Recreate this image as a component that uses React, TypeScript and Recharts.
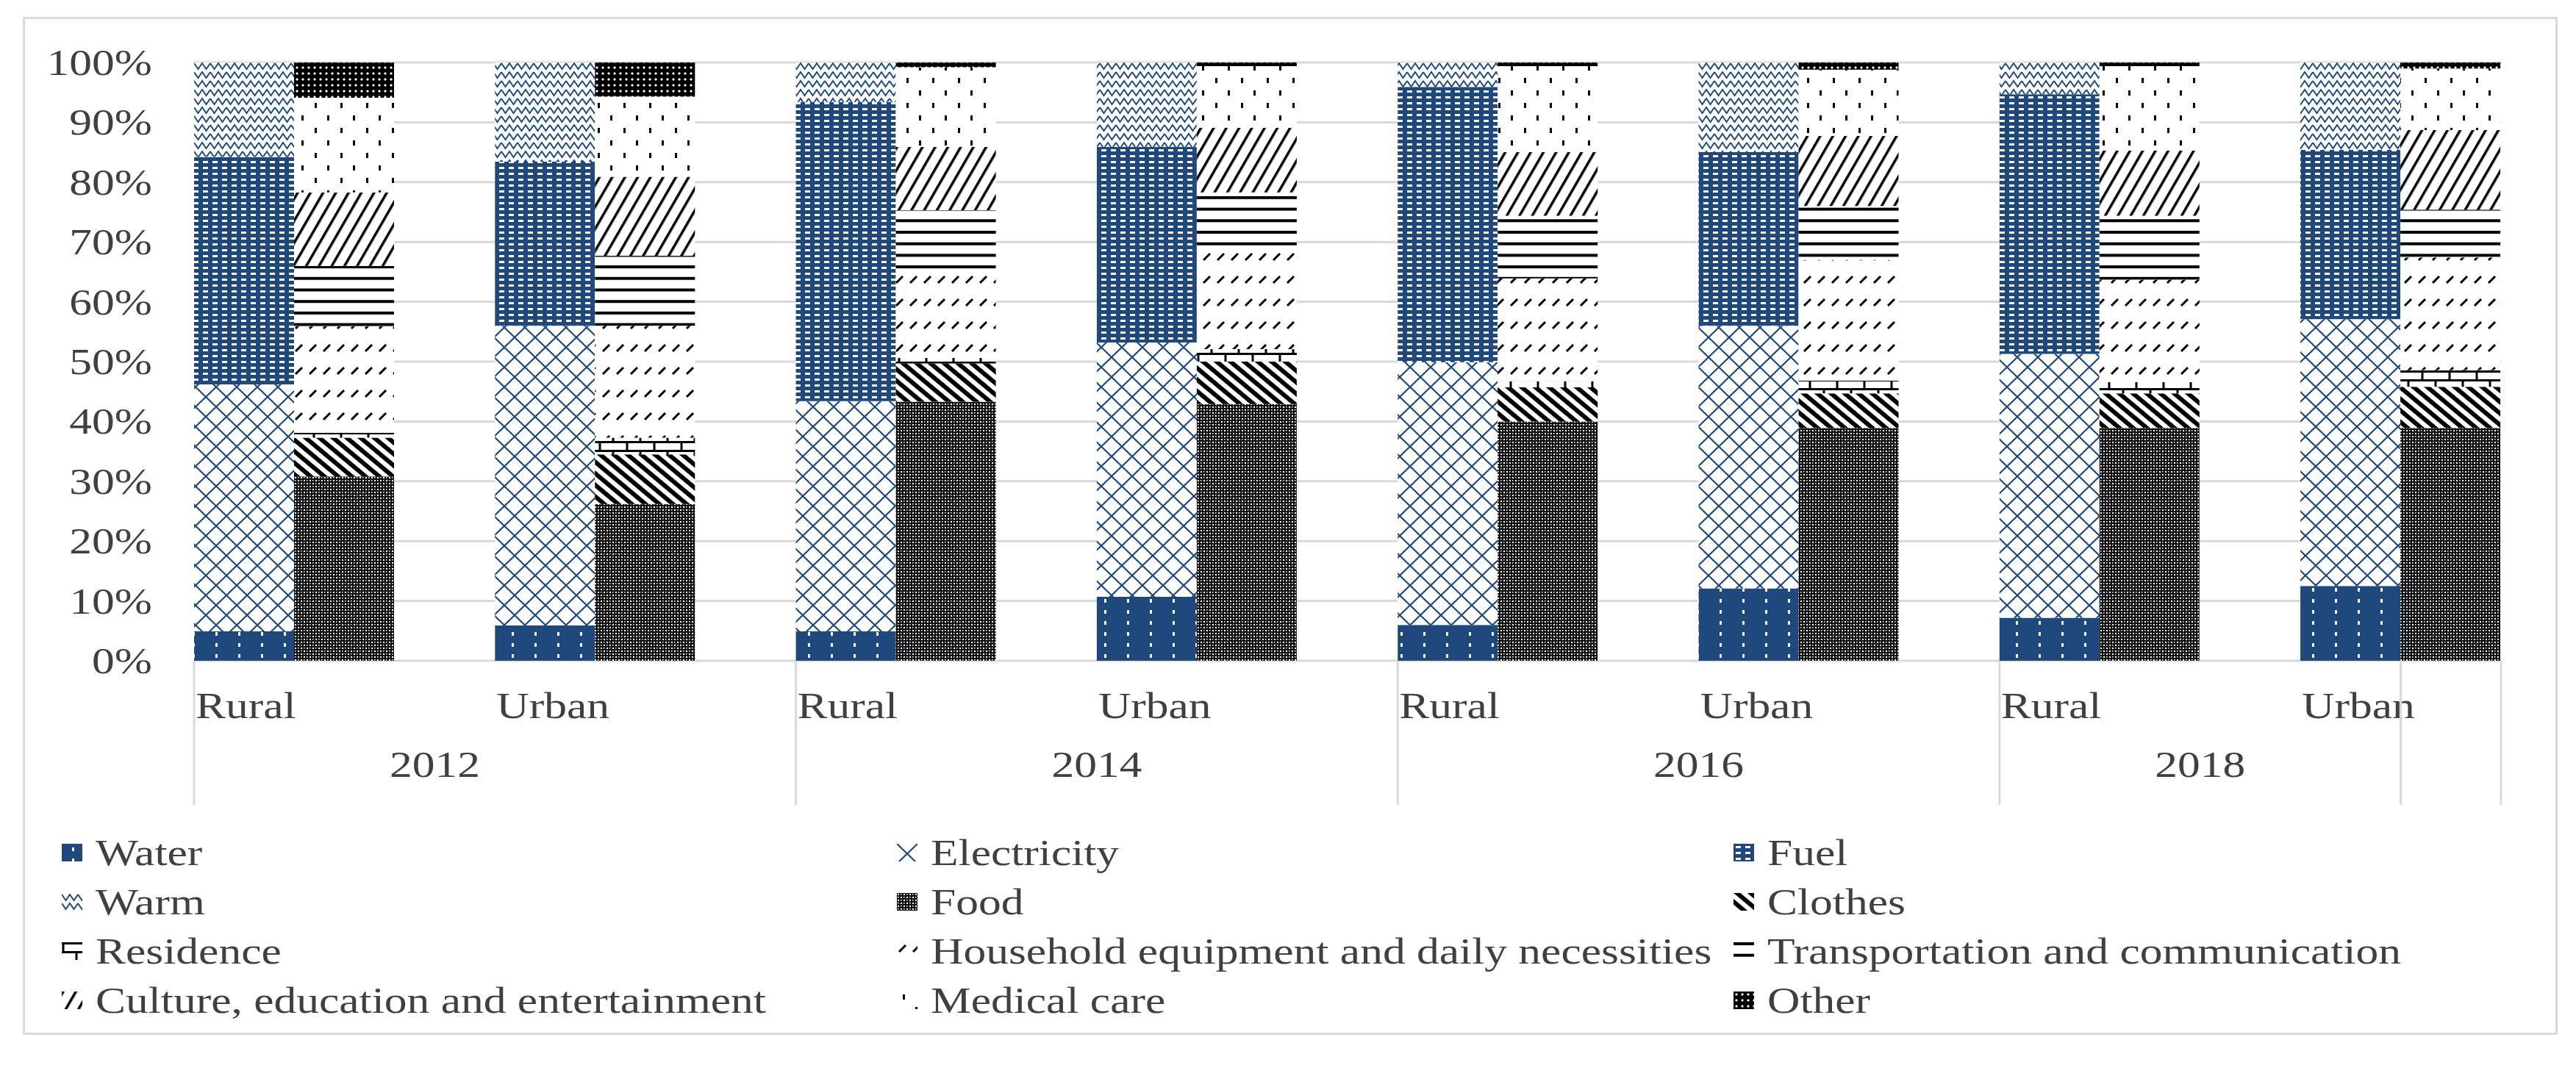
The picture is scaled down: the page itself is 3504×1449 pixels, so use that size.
import React from 'react';
import { BarChart, Bar, XAxis, YAxis, CartesianGrid, Legend } from 'recharts';

// ---------------- data ----------------
const years = ['2012', '2014', '2016', '2018'];
const areas = ['Rural', 'Urban'];
const yTicks = [0, 10, 20, 30, 40, 50, 60, 70, 80, 90, 100];

// one value per bar: 2012 Rural, 2012 Urban, 2014 Rural, 2014 Urban, 2016 Rural, 2016 Urban, 2018 Rural, 2018 Urban
const water = [4.9, 5.9, 4.9, 10.7, 6.0, 12.1, 7.2, 12.5];
const electricity = [41.3, 50.1, 38.5, 42.5, 43.9, 43.9, 44.1, 44.6];
const fuel = [38.0, 27.4, 50.0, 32.7, 46.0, 29.0, 43.4, 28.3];
const warm = [15.8, 16.6, 6.6, 14.1, 4.1, 15.0, 5.3, 14.6];
const food = [30.8, 26.2, 43.3, 42.9, 40.0, 38.9, 38.9, 38.9];
const clothes = [6.5, 8.3, 6.4, 7.1, 5.7, 5.8, 5.8, 6.9];
const residence = [0.8, 2.8, 0.9, 2.1, 1.0, 2.1, 1.9, 2.8];
const household = [17.8, 18.7, 14.8, 17.0, 17.2, 20.2, 17.1, 18.8];
const transport = [10.1, 11.7, 9.9, 9.2, 10.5, 9.0, 10.7, 8.0];
const culture = [12.3, 13.2, 10.6, 10.8, 10.6, 11.7, 10.9, 13.3];
const medical = [15.8, 13.4, 13.3, 10.3, 14.4, 11.1, 14.1, 10.3];
const other = [5.9, 5.7, 0.8, 0.6, 0.6, 1.2, 0.6, 1.0];

const seriesKeys = ['water', 'electricity', 'fuel', 'warm', 'food', 'clothes', 'residence', 'household', 'transport', 'culture', 'medical', 'other'];
const seriesNames = [
  'Water', 'Electricity', 'Fuel', 'Warm', 'Food', 'Clothes', 'Residence',
  'Household equipment and daily necessities', 'Transportation and communication',
  'Culture, education and entertainment', 'Medical care', 'Other',
];
const seriesValues = [water, electricity, fuel, warm, food, clothes, residence, household, transport, culture, medical, other];
const seriesStack = ['energy', 'energy', 'energy', 'energy', 'spend', 'spend', 'spend', 'spend', 'spend', 'spend', 'spend', 'spend'];

const data = years.flatMap((yr, yi) =>
  areas.map((ar, ai) => {
    const i = yi * 2 + ai;
    const row: any = { cat: `${ar} ${yr}`, area: ar, year: yr, gap: 0 };
    seriesKeys.forEach((k, si) => {
      row[k] = seriesValues[si][i];
    });
    return row;
  })
);

// ---------------- style ----------------
const W = 3504;
const H = 1449;
const SX = 1.23; // horizontal stretch of the text in the reference
const FONT = '"Liberation Serif", "Times New Roman", serif';
const FS = 50;
const TEXT = '#404040';
const GRID = '#d9d9d9';
const NAVY = '#1f497d';
const yearShift = [0.8, 1, 1, 0.667];

const Patterns = () => (
  <svg width={0} height={0} style={{ position: 'absolute', left: 0, top: 0 }}>
    <defs>
      <pattern id="p-water" patternUnits="userSpaceOnUse" width={31} height={15}>
        <rect width={31} height={15} fill={NAVY} />
        <rect x={14} y={5} width={3} height={5} fill="#fff" />
      </pattern>
      <pattern id="p-electricity" patternUnits="userSpaceOnUse" width={28} height={27}>
        <rect width={28} height={27} fill="#fff" />
        <path d="M0,0 L28,27 M28,0 L0,27" stroke={NAVY} strokeWidth={2.2} />
      </pattern>
      <pattern id="p-fuel" patternUnits="userSpaceOnUse" width={13} height={8}>
        <rect width={13} height={8} fill={NAVY} />
        <rect x={3} y={3} width={7} height={3} fill="#fff" />
      </pattern>
      <pattern id="p-warm" patternUnits="userSpaceOnUse" width={22} height={12}>
        <rect width={22} height={12} fill="#fff" />
        <path d="M0,2 L5.5,10 L11,2 L16.5,10 L22,2" fill="none" stroke={NAVY} strokeWidth={2} />
      </pattern>
      <pattern id="p-food" patternUnits="userSpaceOnUse" width={8} height={8}>
        <rect width={8} height={8} fill="#111" />
        <rect x={1} y={1} width={2} height={2} fill="#fff" />
        <rect x={5} y={5} width={2} height={2} fill="#fff" />
        <rect x={5} y={1} width={1.5} height={1.5} fill="#fff" />
        <rect x={1} y={5} width={1.5} height={1.5} fill="#fff" />
      </pattern>
      <pattern id="p-clothes" patternUnits="userSpaceOnUse" width={12} height={12} patternTransform="rotate(-50)">
        <rect width={12} height={12} fill="#fff" />
        <rect width={6} height={12} fill="#000" />
      </pattern>
      <pattern id="p-residence" patternUnits="userSpaceOnUse" width={37} height={24}>
        <rect width={37} height={24} fill="#fff" />
        <path d="M0,1.5 H37 M0,13.5 H37 M2,1.5 V13.5 M20,13.5 V24" stroke="#000" strokeWidth={3} />
      </pattern>
      <pattern id="p-household" patternUnits="userSpaceOnUse" width={19} height={31}>
        <rect width={19} height={31} fill="#fff" />
        <path d="M3,13 L12,4" stroke="#000" strokeWidth={3} />
      </pattern>
      <pattern id="p-transport" patternUnits="userSpaceOnUse" width={10} height={15.7}>
        <rect width={10} height={15.7} fill="#fff" />
        <rect y={0} width={10} height={4} fill="#000" />
      </pattern>
      <pattern id="p-culture" patternUnits="userSpaceOnUse" width={15} height={15} patternTransform="rotate(30)">
        <rect width={15} height={15} fill="#fff" />
        <rect width={3.5} height={15} fill="#000" />
      </pattern>
      <pattern id="p-medical" patternUnits="userSpaceOnUse" width={35} height={34}>
        <rect width={35} height={34} fill="#fff" />
        <rect x={8} y={4} width={3} height={7} fill="#000" />
        <rect x={25} y={21} width={3} height={7} fill="#000" />
      </pattern>
      <pattern id="p-other" patternUnits="userSpaceOnUse" width={8} height={8}>
        <rect width={8} height={8} fill="#000" />
        <path d="M4,2 L6,4 L4,6 L2,4 Z" fill="#fff" />
      </pattern>
    </defs>
  </svg>
);

const textStyle = { fontFamily: FONT, fontSize: FS, fill: TEXT } as any;

const YTick = (props: any) => {
  const { x, y, payload } = props;
  return (
    <g transform={`translate(${x},${y})`}>
      <text transform={`scale(${SX},1)`} textAnchor="end" dy="0.34em" style={textStyle}>
        {`${payload.value}%`}
      </text>
    </g>
  );
};

const XTick = (props: any) => {
  const { x, y, index, payload } = props;
  const half = payload && typeof payload.offset === 'number' && payload.offset > 0 ? payload.offset : 204.6;
  const band = half * 2;
  const start = x - half;
  const row = data[index];
  if (!row) return null;
  const els: any[] = [];
  els.push(
    <text key="a" transform={`translate(${start + 2},${y + 78}) scale(${SX},1)`} textAnchor="start" style={textStyle}>
      {row.area}
    </text>
  );
  if (index % 2 === 0) {
    const yi = index / 2;
    els.push(<line key="s" x1={start} x2={start} y1={y} y2={y + 196} stroke={GRID} strokeWidth={3} />);
    els.push(
      <text key="y" transform={`translate(${start + band * yearShift[yi]},${y + 158}) scale(${SX},1)`} textAnchor="middle" style={textStyle}>
        {row.year}
      </text>
    );
  }
  if (index === data.length - 1) {
    const slot = band / 3;
    els.push(<line key="e1" x1={start + slot} x2={start + slot} y1={y} y2={y + 196} stroke={GRID} strokeWidth={3} />);
    els.push(<line key="e2" x1={start + 2 * slot} x2={start + 2 * slot} y1={y} y2={y + 196} stroke={GRID} strokeWidth={3} />);
  }
  return <g>{els}</g>;
};

const colX = [84, 1220, 2358];
const rowY = [1160, 1227, 1294, 1361];
const LEG_TOP = 1100;

const LegendContent = (props: any) => {
  const payload = (props.payload || []).filter((p: any) => p.type !== 'none' && seriesNames.indexOf(p.value) >= 0);
  const items = payload.length
    ? payload.map((p: any) => seriesNames.indexOf(p.value)).sort((a: number, b: number) => a - b)
    : seriesNames.map((_, i) => i);
  return (
    <div style={{ position: 'relative', width: W, height: 330 }}>
      {items.map((si: number) => {
        const col = si % 3;
        const r = Math.floor(si / 3);
        return (
          <div
            key={si}
            style={{
              position: 'absolute',
              left: colX[col],
              top: rowY[r] - LEG_TOP - 30,
              height: 60,
              display: 'flex',
              alignItems: 'center',
              whiteSpace: 'nowrap',
            }}
          >
            <svg width={28} height={24} style={{ flex: 'none', display: 'block' }}>
              <rect width={28} height={24} fill={`url(#p-${seriesKeys[si]})`} />
            </svg>
            <span
              style={{
                marginLeft: 18,
                fontSize: FS,
                fontFamily: FONT,
                color: TEXT,
                display: 'inline-block',
                transform: `scaleX(${SX})`,
                transformOrigin: 'left center',
                lineHeight: '60px',
              }}
            >
              {seriesNames[si]}
            </span>
          </div>
        );
      })}
    </div>
  );
};

export default function App() {
  return (
    <div style={{ position: 'absolute', left: 0, top: 0, width: W, height: H, background: '#fff', overflow: 'hidden' }}>
      <Patterns />
      <div
        style={{
          position: 'absolute',
          left: 31,
          top: 23,
          width: 3448,
          height: 1385,
          border: `3px solid ${GRID}`,
          boxSizing: 'border-box',
        }}
      />
      <div style={{ position: 'absolute', left: 0, top: 0 }}>
        <BarChart
          width={W}
          height={H}
          data={data}
          margin={{ top: 85, right: 102, bottom: 350, left: 64 }}
          barCategoryGap={0}
          barGap={0}
        >
          <CartesianGrid vertical={false} stroke={GRID} strokeWidth={3} />
          <XAxis
            dataKey="cat"
            tick={<XTick />}
            tickLine={false}
            axisLine={false}
            tickSize={0}
            tickMargin={0}
            height={200}
            interval={0}
            padding={{ left: 0, right: -136.4 }}
          />
          <YAxis
            type="number"
            domain={[0, 100]}
            ticks={yTicks}
            allowDataOverflow
            tick={<YTick />}
            tickLine={false}
            axisLine={false}
            tickSize={0}
            tickMargin={57}
            width={200}
          />
          {seriesKeys.map((k, si) => (
            <Bar
              key={k}
              dataKey={k}
              name={seriesNames[si]}
              stackId={seriesStack[si]}
              fill={`url(#p-${k})`}
              isAnimationActive={false}
            />
          ))}
          <Bar dataKey="gap" stackId="gap" fill="none" legendType="none" isAnimationActive={false} />
          <Legend
            layout="horizontal"
            verticalAlign="middle"
            align="center"
            content={<LegendContent />}
            wrapperStyle={{ left: 0, top: LEG_TOP, width: W, height: 330 }}
          />
        </BarChart>
      </div>
    </div>
  );
}
